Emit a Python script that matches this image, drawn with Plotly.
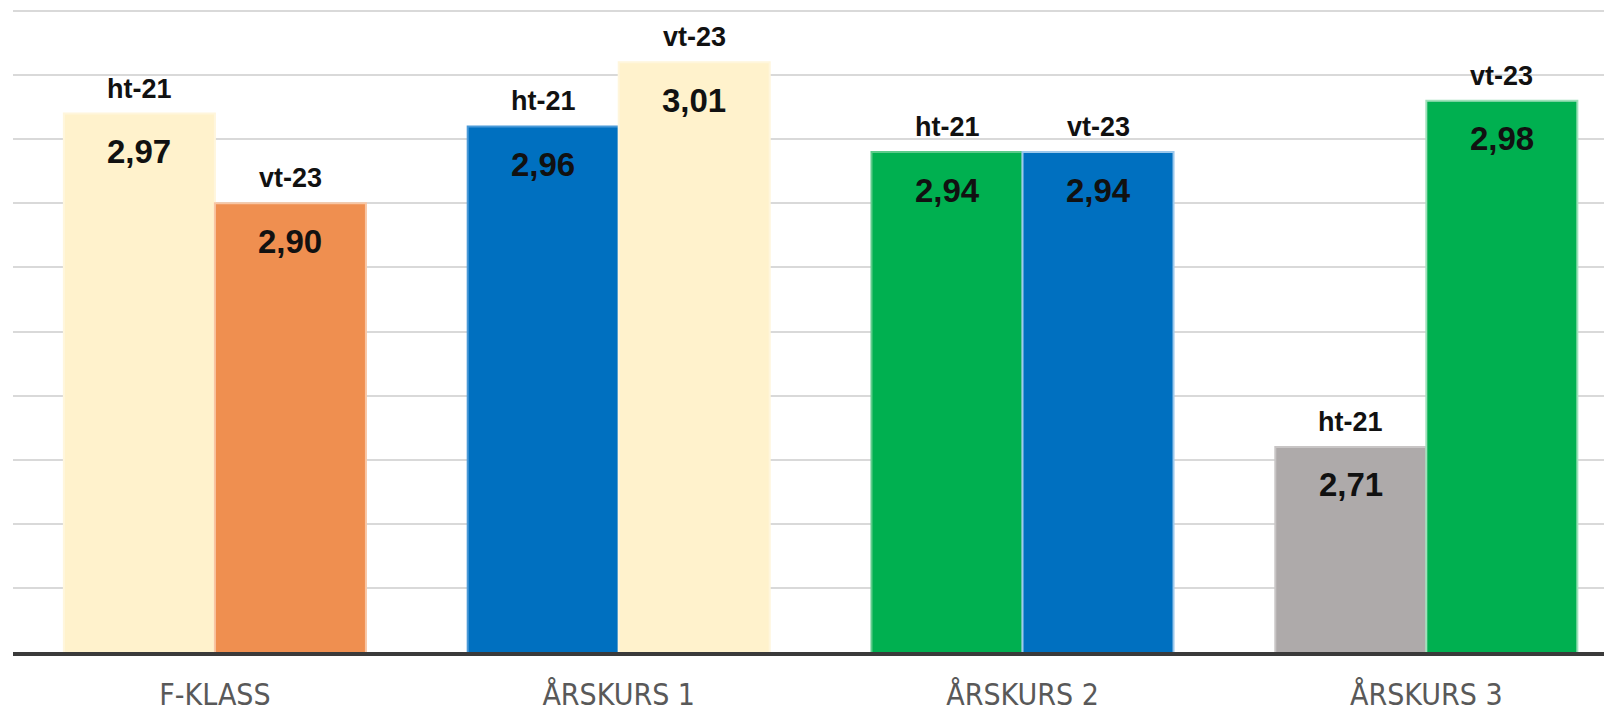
import plotly.graph_objects as go

categories = ["F-KLASS", "ÅRSKURS 1", "ÅRSKURS 2", "ÅRSKURS 3"]
periods = ["ht-21", "vt-23"]
ht21_values = [2.97, 2.96, 2.94, 2.71]
vt23_values = [2.90, 3.01, 2.94, 2.98]
ht21_colors = ["#FFF2CC", "#0070C0", "#00B050", "#AEAAAA"]
vt23_colors = ["#EF8F50", "#FFF2CC", "#0070C0", "#00B050"]
ht21_edges = ["#FFF6DC", "#4A9AD8", "#5CCB8A", "#C8C5C5"]
vt23_edges = ["#F8C6A4", "#FFF6DC", "#9CC8EC", "#9FE0BA"]
value_labels_ht = ["2,97", "2,96", "2,94", "2,71"]
value_labels_vt = ["2,90", "3,01", "2,94", "2,98"]

BARGAP = 0.252
OFF = (1 - BARGAP) / 4

fig = go.Figure()
fig.add_trace(go.Bar(x=categories, y=ht21_values, name=periods[0],
                     marker=dict(color=ht21_colors, line=dict(color=ht21_edges, width=2)),
                     hoverinfo="skip"))
fig.add_trace(go.Bar(x=categories, y=vt23_values, name=periods[1],
                     marker=dict(color=vt23_colors, line=dict(color=vt23_edges, width=2)),
                     hoverinfo="skip"))

annotations = []
for s, (vals, labs, sign) in enumerate([(ht21_values, value_labels_ht, -1),
                                        (vt23_values, value_labels_vt, 1)]):
    for i, v in enumerate(vals):
        xpos = i + sign * OFF
        annotations.append(dict(x=xpos, y=v, xref="x", yref="y",
                                text="<b>" + periods[s] + "</b>",
                                showarrow=False, yanchor="middle", yshift=25,
                                font=dict(family="Liberation Sans", size=27, color="#111111")))
        annotations.append(dict(x=xpos, y=v, xref="x", yref="y",
                                text="<b>" + labs[i] + "</b>",
                                showarrow=False, yanchor="middle", yshift=-38,
                                font=dict(family="Liberation Sans", size=33, color="#111111")))

fig.update_layout(
    width=1604, height=716,
    margin=dict(l=13, r=0, t=10, b=64, autoexpand=False),
    paper_bgcolor="white", plot_bgcolor="white",
    barmode="group", bargap=BARGAP, bargroupgap=0,
    showlegend=False,
    annotations=annotations,
    xaxis=dict(type="category", range=[-0.5, 3.44], showgrid=False, automargin=False,
               showline=True, linecolor="#3A3A3A", linewidth=4,
               ticks="", ticklabelstandoff=13,
               tickfont=dict(family="DejaVu Sans Condensed, Liberation Sans Narrow, Liberation Sans",
                             size=30, color="#595959")),
    yaxis=dict(range=[2.55, 3.0508], tick0=2.55, dtick=0.05, showgrid=True, automargin=False,
               gridcolor="#D9D9D9", gridwidth=2, showticklabels=False,
               zeroline=False, showline=False, ticks=""),
)

fig.write_html("out.html")
